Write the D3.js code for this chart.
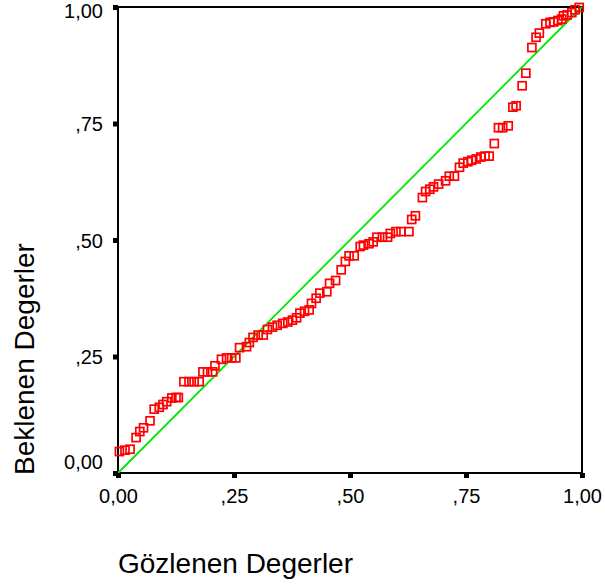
<!DOCTYPE html>
<html><head><meta charset="utf-8">
<script src="https://cdn.jsdelivr.net/npm/d3@7"></script>
<style>body{margin:0;background:#fff}svg{display:block}</style>
</head><body><svg id="c" width="605" height="586"></svg>
<script>
const observed = [0.003,0.015,0.026,0.039,0.047,0.055,0.069,0.078,0.089,0.097,0.105,0.116,0.125,0.130,0.142,0.153,0.164,0.175,0.183,0.193,0.204,0.209,0.223,0.234,0.245,0.254,0.262,0.277,0.283,0.291,0.302,0.313,0.322,0.333,0.343,0.355,0.366,0.376,0.385,0.392,0.402,0.412,0.417,0.427,0.435,0.450,0.456,0.469,0.481,0.490,0.498,0.509,0.522,0.529,0.541,0.550,0.558,0.570,0.581,0.587,0.599,0.610,0.627,0.633,0.641,0.656,0.663,0.672,0.680,0.691,0.706,0.714,0.725,0.736,0.744,0.754,0.762,0.772,0.782,0.791,0.800,0.811,0.820,0.829,0.841,0.851,0.858,0.871,0.879,0.892,0.901,0.908,0.922,0.931,0.939,0.948,0.956,0.960,0.968,0.978,0.985,0.994];
const expected = [0.046,0.049,0.051,0.076,0.089,0.097,0.112,0.137,0.141,0.147,0.153,0.161,0.162,0.162,0.196,0.196,0.196,0.196,0.217,0.217,0.217,0.230,0.244,0.247,0.247,0.247,0.269,0.271,0.280,0.291,0.296,0.296,0.308,0.313,0.317,0.321,0.324,0.328,0.333,0.343,0.347,0.350,0.364,0.375,0.386,0.389,0.407,0.413,0.436,0.454,0.466,0.466,0.486,0.489,0.492,0.496,0.506,0.506,0.506,0.514,0.518,0.518,0.518,0.544,0.552,0.591,0.604,0.609,0.614,0.620,0.627,0.637,0.637,0.656,0.665,0.668,0.671,0.674,0.678,0.680,0.680,0.707,0.741,0.741,0.745,0.785,0.788,0.831,0.858,0.913,0.935,0.944,0.964,0.967,0.968,0.971,0.974,0.981,0.983,0.988,0.994,0.999];
const tickValues = [0, 0.25, 0.5, 0.75, 1];
const tickLabels = ["0,00", ",25", ",50", ",75", "1,00"];
const xTitle = "Gözlenen Degerler";
const yTitle = "Beklenen Degerler";

const L = 118, R = 582, T = 7, B = 473;
const svg = d3.select("#c");
const x = d3.scaleLinear().domain([0, 1]).range([L, R]);
const y = d3.scaleLinear().domain([0, 1]).range([B, T]);
const font = "Arial, 'Liberation Sans', sans-serif";

// frame
svg.append("rect").attr("x", L).attr("y", T).attr("width", R - L).attr("height", B - T)
  .attr("fill", "none").attr("stroke", "#000").attr("stroke-width", 2);

// diagonal reference line
svg.append("line").attr("x1", x(0)).attr("y1", y(0)).attr("x2", x(1)).attr("y2", y(1))
  .attr("stroke", "#00e600").attr("stroke-width", 1.8);

// points
svg.append("g").selectAll("rect").data(observed.map((v, i) => [v, expected[i]])).join("rect")
  .attr("x", d => x(d[0]) - 4).attr("y", d => y(d[1]) - 4)
  .attr("width", 8).attr("height", 8)
  .attr("fill", "none").attr("stroke", "#ff0000").attr("stroke-width", 1.7);

// axes
const yAxis = d3.axisLeft(y).tickValues(tickValues).tickFormat((d, i) => tickLabels[i]).tickSize(0).tickPadding(15);
const gy = svg.append("g").attr("transform", `translate(${L},0)`).call(yAxis);
const xAxis = d3.axisBottom(x).tickValues(tickValues).tickFormat((d, i) => tickLabels[i]).tickSize(0).tickPadding(16);
const gx = svg.append("g").attr("transform", `translate(0,${B})`).call(xAxis);
[gx, gy].forEach(g => {
  g.select(".domain").remove();
  g.selectAll("text").attr("font-family", font).attr("font-size", 20).attr("fill", "#000");
});
// keep end labels inside the frame height, as in the original
gy.selectAll("text").attr("dy", "0.35em")
  .attr("y", d => Math.max(10, Math.min(461, y(d))) - y(d));
// tick squares
gy.selectAll(".tick").append("rect").attr("x", -5).attr("y", -2.5).attr("width", 5).attr("height", 5).attr("fill", "#000");
gx.selectAll(".tick").append("rect").attr("x", -2.5).attr("y", 0).attr("width", 5).attr("height", 5).attr("fill", "#000");

// titles
svg.append("text").attr("x", L).attr("y", 573).attr("font-family", font).attr("font-size", 28)
  .attr("fill", "#000").text(xTitle);
svg.append("text").attr("transform", "translate(34,475) rotate(-90)").attr("font-family", font)
  .attr("font-size", 28).attr("fill", "#000").text(yTitle);
</script></body></html>
